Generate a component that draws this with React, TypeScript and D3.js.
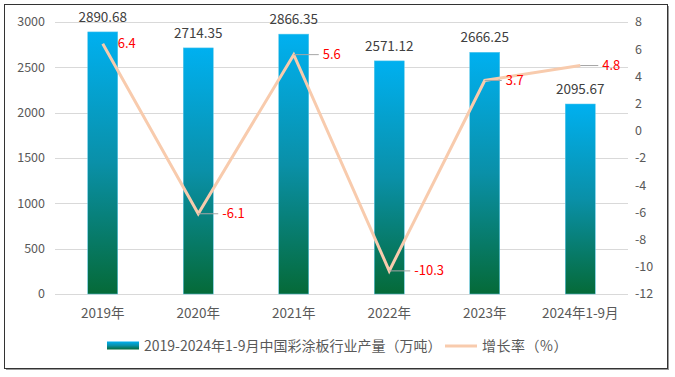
import React from "react";
import * as d3 from "d3";

const categories = ["2019年", "2020年", "2021年", "2022年", "2023年", "2024年1-9月"];
const production = [2890.68, 2714.35, 2866.35, 2571.12, 2666.25, 2095.67];
const growth = [6.4, -6.1, 5.6, -10.3, 3.7, 4.8];
const leftTicks = [0, 500, 1000, 1500, 2000, 2500, 3000];
const rightTicks = [-12, -10, -8, -6, -4, -2, 0, 2, 4, 6, 8];
const barSeriesName = "2019-2024年1-9月中国彩涂板行业产量（万吨）";
const lineSeriesName = "增长率（%）";

// label leader offsets (layout only)
const leaderLen = [0, 20, 25, 21, 17, 18];

const W = 675;
const H = 377;
const plot = { left: 55, right: 628, top: 22, bottom: 294 };
const FONT = "'Noto Sans CJK SC', 'Noto Sans', sans-serif";
const GREY = "#595959";

export default function App() {
  const x = d3
    .scaleBand<string>()
    .domain(categories)
    .range([plot.left, plot.right])
    .paddingInner(0)
    .paddingOuter(0);
  const yL = d3.scaleLinear().domain([0, 3000]).range([plot.bottom, plot.top]);
  const yR = d3.scaleLinear().domain([-12, 8]).range([plot.bottom, plot.top]);
  const barW = 30;
  const cx = (c: string) => (x(c) as number) + x.bandwidth() / 2;

  const line = d3
    .line<number>()
    .x((_, i) => cx(categories[i]))
    .y((d) => yR(d));

  return (
    <svg
      width={W}
      height={H}
      style={{ position: "absolute", left: 0, top: 0, fontFamily: FONT }}
    >
      <defs>
        <linearGradient id="barGrad" x1="0" y1="0" x2="0" y2="1">
          <stop offset="0%" stopColor="#00B0F0" />
          <stop offset="50%" stopColor="#0A90A8" />
          <stop offset="100%" stopColor="#056A38" />
        </linearGradient>
      </defs>
      <rect x={0} y={0} width={W} height={H} fill="#fff" />
      {/* frame with shadow */}
      <rect x={6} y={6} width={663} height={364} fill="#9a9a9a" />
      <rect x={4.5} y={4.5} width={663} height={364} fill="#fff" stroke="#333" strokeWidth={1} />

      {/* gridlines */}
      {leftTicks.map((t) => (
        <line
          key={t}
          x1={plot.left}
          x2={plot.right}
          y1={Math.round(yL(t)) + 0.5}
          y2={Math.round(yL(t)) + 0.5}
          stroke="#D9D9D9"
          strokeWidth={1}
        />
      ))}

      {/* left ticks */}
      {leftTicks.map((t) => (
        <text
          key={t}
          x={45}
          y={yL(t)}
          dy="0.35em"
          textAnchor="end"
          fontSize={12.5}
          fill={GREY}
        >
          {t}
        </text>
      ))}
      {/* right ticks */}
      {rightTicks.map((t) => (
        <text key={t} x={635} y={yR(t)} dy="0.35em" textAnchor="start" fontSize={12.5} fill={GREY}>
          {t}
        </text>
      ))}

      {/* bars */}
      {production.map((v, i) => (
        <g key={i}>
          <rect
            x={cx(categories[i]) - barW / 2}
            y={yL(v)}
            width={barW}
            height={yL(0) - yL(v)}
            fill="url(#barGrad)"
            stroke="#5CC8EA"
            strokeWidth={0.5}
          />
          <text
            x={cx(categories[i])}
            y={yL(v) - 15}
            dy="0.35em"
            textAnchor="middle"
            fontSize={13.5}
            fill="#404040"
          >
            {v.toFixed(2)}
          </text>
        </g>
      ))}

      {/* line */}
      <path d={line(growth) || ""} fill="none" stroke="#F8CBAD" strokeWidth={3} strokeLinejoin="miter" />

      {/* growth labels */}
      {growth.map((g, i) => {
        const px = cx(categories[i]);
        const py = yR(g);
        const L = leaderLen[i];
        return (
          <g key={i}>
            {L > 0 && (
              <line x1={px} x2={px + L} y1={py} y2={py} stroke="#A6A6A6" strokeWidth={1} />
            )}
            <text
              x={L > 0 ? px + L + 4 : px + 15}
              y={py}
              dy="0.35em"
              textAnchor="start"
              fontSize={13}
              fill="#FF0000"
            >
              {g}
            </text>
          </g>
        );
      })}

      {/* x labels */}
      {categories.map((c) => (
        <text key={c} x={cx(c)} y={313} dy="0.35em" textAnchor="middle" fontSize={13.5} fill={GREY}>
          {c}
        </text>
      ))}

      {/* legend */}
      <rect x={107} y={341.5} width={32} height={8} fill="url(#barGrad)" />
      <text x={144} y={346} dy="0.35em" fontSize={14} fill={GREY}>
        {barSeriesName}
      </text>
      <line x1={445} x2={477} y1={346} y2={346} stroke="#F8CBAD" strokeWidth={3} />
      <text x={482} y={346} dy="0.35em" fontSize={14} fill={GREY} letterSpacing={0.5}>
        {lineSeriesName}
      </text>
    </svg>
  );
}
